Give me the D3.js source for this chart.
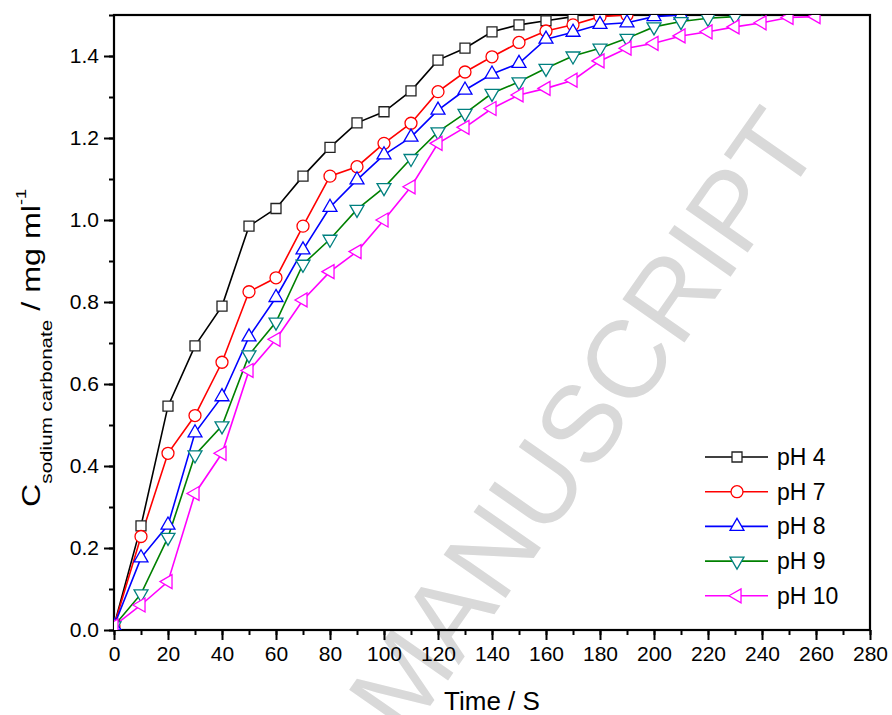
<!DOCTYPE html>
<html>
<head>
<meta charset="utf-8">
<script src="https://cdn.jsdelivr.net/npm/d3@7"></script>
<style>
  body { margin: 0; background: #fff; }
  svg { display: block; font-family: "Liberation Sans", Arial, sans-serif; }
</style>
</head>
<body>
<svg id="chart"></svg>
<script>
const width = 892;
const height = 715;

// time (s) for each sample
const times = [0, 10, 20, 30, 40, 50, 60, 70, 80, 90, 100, 110, 120, 130, 140, 150, 160, 170, 180, 190, 200, 210, 220, 230, 240, 250, 260];

// concentration values (mg/ml)
const ph4 = [0.01, 0.254, 0.546, 0.693, 0.790, 0.985, 1.028, 1.107, 1.177, 1.237, 1.264, 1.315, 1.390, 1.419, 1.459, 1.476, 1.486, 1.496, 1.52];
const ph7 = [0.01, 0.228, 0.431, 0.523, 0.653, 0.825, 0.859, 0.985, 1.107, 1.130, 1.187, 1.236, 1.313, 1.361, 1.398, 1.433, 1.461, 1.476, 1.496, 1.50, 1.52];
const ph8 = [0.01, 0.176, 0.256, 0.481, 0.569, 0.715, 0.811, 0.927, 1.031, 1.098, 1.159, 1.202, 1.268, 1.317, 1.356, 1.382, 1.441, 1.458, 1.477, 1.481, 1.496, 1.50, 1.52];
const ph9 = [0.01, 0.088, 0.226, 0.427, 0.498, 0.671, 0.751, 0.892, 0.953, 1.026, 1.079, 1.150, 1.215, 1.260, 1.309, 1.337, 1.370, 1.400, 1.419, 1.443, 1.471, 1.484, 1.492, 1.496, 1.52];
const ph10 = [0.01, 0.061, 0.118, 0.333, 0.431, 0.633, 0.709, 0.805, 0.874, 0.923, 1.0, 1.081, 1.187, 1.226, 1.272, 1.305, 1.321, 1.341, 1.388, 1.419, 1.431, 1.449, 1.459, 1.471, 1.481, 1.494, 1.496];

const seriesNames = ["pH 4", "pH 7", "pH 8", "pH 9", "pH 10"];
const lineColors = ["#000000", "#ff0000", "#0000ff", "#008000", "#ff00ff"];
const markerColors = ["#222222", "#ff0000", "#0000ff", "#008080", "#ff00ff"];
const xTicks = d3.range(0, 281, 20);
const yTicks = d3.range(0, 1.41, 0.2);

const allSeries = [ph4, ph7, ph8, ph9, ph10];

const margin = { left: 114, right: 22, top: 15, bottom: 85 };

const svg = d3.select("#chart")
    .attr("width", width)
    .attr("height", height);

const x = d3.scaleLinear().domain([0, 280]).range([margin.left, width - margin.right]);
const y = d3.scaleLinear().domain([0, 1.5]).range([height - margin.bottom, margin.top]);

// watermark behind everything
svg.append("text")
    .attr("transform", "translate(582,420) rotate(-55)")
    .attr("text-anchor", "middle")
    .attr("dy", "0.36em")
    .style("font-size", "110px")
    .style("fill", "#d9d9d9")
    .text("MANUSCRIPT");

svg.append("clipPath").attr("id", "plotclip")
  .append("rect")
    .attr("x", x(0)).attr("y", y(1.5))
    .attr("width", x(280) - x(0)).attr("height", y(0) - y(1.5));

// x axis with minor ticks
const xMinor = d3.axisBottom(x).tickValues(d3.range(0, 281, 10)).tickSize(5).tickFormat("");
const xMajor = d3.axisBottom(x).tickValues(xTicks).tickSize(10).tickPadding(6).tickFormat(d3.format("d"));
svg.append("g").attr("transform", `translate(0,${y(0)})`).call(xMinor);
const gx = svg.append("g").attr("transform", `translate(0,${y(0)})`).call(xMajor);

const yMinor = d3.axisLeft(y).tickValues(d3.range(0, 1.51, 0.1)).tickSize(5).tickFormat("");
const yMajor = d3.axisLeft(y).tickValues(yTicks).tickSize(10).tickPadding(5).tickFormat(d3.format(".1f"));
svg.append("g").attr("transform", `translate(${x(0)},0)`).call(yMinor);
const gy = svg.append("g").attr("transform", `translate(${x(0)},0)`).call(yMajor);

svg.selectAll(".domain").remove();
svg.selectAll(".tick line").attr("stroke", "#000").attr("stroke-width", 2);
gx.selectAll("text").style("font-size", "21px").attr("fill", "#000");
gy.selectAll("text").style("font-size", "21px").attr("fill", "#000");

// frame
svg.append("rect")
    .attr("x", x(0)).attr("y", y(1.5))
    .attr("width", x(280) - x(0)).attr("height", y(0) - y(1.5))
    .attr("fill", "none").attr("stroke", "#000").attr("stroke-width", 2.2);

const symbols = [
  { type: d3.symbolSquare, size: 100, rot: 0 },
  { type: d3.symbolCircle, size: 113, rot: 0 },
  { type: d3.symbolTriangle, size: 84, rot: 0 },
  { type: d3.symbolTriangle, size: 84, rot: 180 },
  { type: d3.symbolTriangle, size: 84, rot: -90 }
];

const line = d3.line()
    .x((d, i) => x(times[i]))
    .y(d => y(d));

const plot = svg.append("g").attr("clip-path", "url(#plotclip)");

allSeries.forEach((vals, k) => {
  plot.append("path")
      .datum(vals)
      .attr("d", line)
      .attr("fill", "none")
      .attr("stroke", lineColors[k])
      .attr("stroke-width", 1.6);
});

allSeries.forEach((vals, k) => {
  const s = symbols[k];
  plot.selectAll(null)
    .data(vals)
    .join("path")
      .attr("d", d3.symbol(s.type, s.size))
      .attr("transform", (d, i) => `translate(${x(times[i])},${y(d)}) rotate(${s.rot})`)
      .attr("fill", "#fff")
      .attr("stroke", markerColors[k])
      .attr("stroke-width", 1.3);
});

// legend
const legend = svg.append("g");
seriesNames.forEach((name, k) => {
  const ly = 457 + k * 34.7;
  const s = symbols[k];
  legend.append("line")
      .attr("x1", 705).attr("x2", 768)
      .attr("y1", ly).attr("y2", ly)
      .attr("stroke", lineColors[k]).attr("stroke-width", 1.6);
  legend.append("path")
      .attr("d", d3.symbol(s.type, s.size)())
      .attr("transform", `translate(737,${ly}) rotate(${s.rot})`)
      .attr("fill", "#fff").attr("stroke", markerColors[k]).attr("stroke-width", 1.3);
  legend.append("text")
      .attr("x", 777).attr("y", ly + 8)
      .style("font-size", "23px")
      .text(name);
});

// axis titles
svg.append("text")
    .attr("x", (x(0) + x(280)) / 2)
    .attr("y", 710)
    .attr("text-anchor", "middle")
    .style("font-size", "26px")
    .text("Time / S");

// y title is stretched along its length like the original
const yl = svg.append("text")
    .attr("transform", "translate(40,348) rotate(-90) scale(1.29,1)")
    .attr("text-anchor", "middle")
    .style("font-size", "25px");
yl.append("tspan").text("C");
yl.append("tspan").attr("dy", 12).style("font-size", "16px").text("sodium carbonate");
yl.append("tspan").attr("dy", -12).text(" / mg ml");
yl.append("tspan").attr("dy", -14).style("font-size", "14px").text("-1");
</script>
</body>
</html>
